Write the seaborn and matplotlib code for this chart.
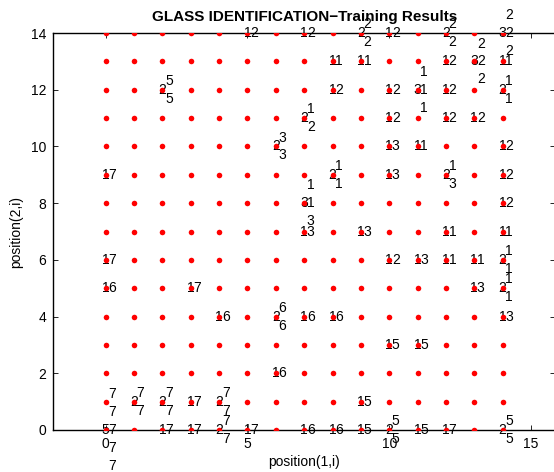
import matplotlib
matplotlib.use("Agg")
import matplotlib.pyplot as plt
import numpy as np
import pandas as pd
import seaborn as sns

# SOM grid (15 x 15 neurons)
grid_cols = list(range(15))
grid_rows = list(range(15))

# Labelled neurons: position and the class of every sample that hit it
node_x = [0, 0, 0, 0, 1, 2, 2, 2, 3, 3, 3, 4, 4, 4, 5, 5, 6, 6, 6,
          7, 7, 7, 7, 7, 7, 8, 8, 8, 8, 8, 9, 9, 9, 9, 9,
          10, 10, 10, 10, 10, 10, 10, 10, 11, 11, 11, 11, 11,
          12, 12, 12, 12, 12, 12, 12, 12, 13, 13, 13, 13,
          14, 14, 14, 14, 14, 14, 14, 14, 14, 14, 14]
node_y = [0, 5, 6, 9, 1, 0, 1, 12, 0, 1, 5, 0, 1, 4, 0, 14, 2, 4, 10,
          0, 4, 7, 8, 11, 14, 0, 4, 9, 12, 13, 0, 1, 7, 13, 14,
          0, 3, 6, 9, 10, 11, 12, 14, 0, 3, 6, 10, 12,
          0, 6, 7, 9, 11, 12, 13, 14, 5, 6, 11, 13,
          0, 4, 5, 6, 7, 8, 9, 10, 12, 13, 14]
node_classes = [
    [7, 7, 7, 7, 7], [6], [7], [7], [7, 7], [7], [7, 7], [5, 5],
    [7], [7], [7], [7, 7], [7, 7], [6], [7], [2], [6], [6, 6], [3, 3],
    [6], [6], [3], [1, 1, 3], [1, 2], [2], [6], [6], [1, 1], [2], [1],
    [5], [5], [3], [1], [2, 2],
    [5, 5], [5], [2], [3], [3], [2], [2], [2],
    [5], [5], [3], [1], [1, 1, 1],
    [7], [1], [1], [1, 3], [2], [2], [2], [2, 2],
    [3], [1], [2], [2, 2, 2],
    [5, 5], [3], [1, 1], [1, 1], [1], [2], [2], [2], [1, 1], [1], [2, 2, 2],
]

x_ticks = [0, 5, 10, 15]
y_ticks = [0, 2, 4, 6, 8, 10, 12, 14]

plt.rcParams["font.family"] = ["Liberation Sans", "DejaVu Sans"]
plt.rcParams["font.size"] = 10

fig = plt.figure(figsize=(5.54, 4.72), dpi=100)
ax = fig.add_axes([0.0957, 0.0890, 0.9067, 0.8409])

gx, gy = np.meshgrid(grid_cols, grid_rows)
grid = pd.DataFrame({"x": gx.ravel(), "y": gy.ravel()})
sns.scatterplot(data=grid, x="x", y="y", color="red", s=16, linewidth=0,
                ax=ax, zorder=3)

# hit count on the neuron, class labels stacked just to its right
step = 0.63
for x, y, cls in zip(node_x, node_y, node_classes):
    n = len(cls)
    ax.text(x, y, str(n), ha="center", va="center", fontsize=10, zorder=2)
    for k, c in enumerate(cls):
        off = ((n - 1) / 2 - k) * step
        ax.text(x + 0.23, y + off, str(c), ha="center", va="center",
                fontsize=10, zorder=2)

ax.set_xlim(-1.86, 15.86)
ax.set_ylim(0, 14)
ax.set_xticks(x_ticks)
ax.set_yticks(y_ticks)
ax.tick_params(direction="in", length=3.5, width=0.6, pad=5,
               top=True, right=True, labelsize=10)
for sp in ax.spines.values():
    sp.set_linewidth(1.0)
ax.set_xlabel("position(1,i)", fontsize=10, labelpad=3)
ax.set_ylabel("position(2,i)", fontsize=10, labelpad=5)
ax.set_title("GLASS IDENTIFICATION\u2212Training Results", fontsize=11,
             fontweight="bold", pad=8.5)

fig.savefig("out.png", dpi=100)
